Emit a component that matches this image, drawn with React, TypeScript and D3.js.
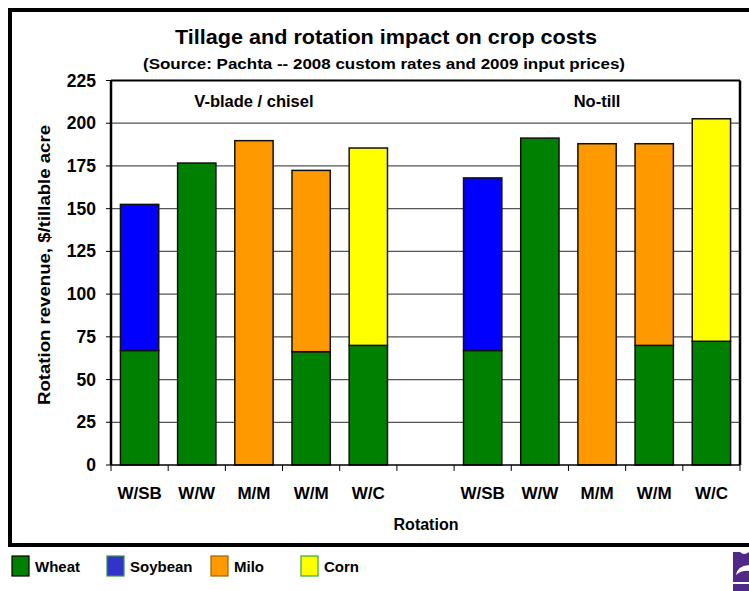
import React from "react";
import * as d3 from "d3";

// Rotation labels (blank slot separates the two tillage groups)
const rotations = ["W/SB", "W/W", "M/M", "W/M", "W/C", "", "W/SB", "W/W", "M/M", "W/M", "W/C"];
const groups = ["V-blade / chisel", "No-till"];

// Revenue by crop, $/tillable acre
const wheat = [67, 176.7, 0, 66.3, 70, 0, 67, 191.3, 0, 70, 72.4];
const soybean = [85.5, 0, 0, 0, 0, 0, 101, 0, 0, 0, 0];
const milo = [0, 0, 189.8, 106.1, 0, 0, 0, 0, 188, 118, 0];
const corn = [0, 0, 0, 0, 115.5, 0, 0, 0, 0, 0, 130.2];

const crops = ["Wheat", "Soybean", "Milo", "Corn"];
const cropColors = ["#008000", "#0000FF", "#FF9900", "#FFFF00"];
const legendColors = ["#008000", "#3333CC", "#FF9900", "#FFFF00"];
const legendStrokes = ["#000000", "#339933", "#996600", "#33AA33"];

const yTicks = [0, 25, 50, 75, 100, 125, 150, 175, 200, 225];

const FONT = "'Liberation Sans', Arial, sans-serif";

export default function App() {
  const W = 749;
  const H = 591;
  const plot = { left: 111, right: 740, top: 80.5, bottom: 465 };

  const x = d3
    .scaleBand<number>()
    .domain(d3.range(rotations.length))
    .range([plot.left, plot.right])
    .paddingInner(0.33)
    .paddingOuter(0.165);
  const step = (plot.right - plot.left) / rotations.length;
  const y = d3.scaleLinear().domain([0, 225]).range([plot.bottom, plot.top]);

  const table = rotations.map((_, i) => ({
    Wheat: wheat[i],
    Soybean: soybean[i],
    Milo: milo[i],
    Corn: corn[i],
  }));
  const stacked = d3.stack<any>().keys(crops)(table);

  const groupCenters = [plot.left + step * 2.5, plot.left + step * 8.5];

  const legendX = [12, 107, 211, 301];

  return (
    <svg
      width={W}
      height={H}
      style={{ position: "absolute", left: 0, top: 0, background: "#fff" }}
      fontFamily={FONT}
      fontWeight="bold"
    >
      {/* outer frame */}
      <rect x={10} y={10} width={760} height={535} fill="none" stroke="#000" strokeWidth={4} />

      {/* titles */}
      <text x={386} y={44} textAnchor="middle" fontSize={21} textLength={422} lengthAdjust="spacingAndGlyphs">
        Tillage and rotation impact on crop costs
      </text>
      <text x={384} y={69} textAnchor="middle" fontSize={14.5} textLength={482} lengthAdjust="spacingAndGlyphs">
        (Source:  Pachta -- 2008 custom rates and 2009 input prices)
      </text>

      {/* gridlines */}
      {yTicks.filter((t) => t > 0 && t < 225).map((t) => (
        <line key={"g" + t} x1={plot.left} x2={plot.right} y1={y(t)} y2={y(t)} stroke="#555" strokeWidth={1.3} />
      ))}

      {/* bars */}
      {stacked.map((layer, k) =>
        layer.map((d, i) =>
          d[1] - d[0] > 0 ? (
            <rect
              key={crops[k] + i}
              x={x(i)}
              y={y(d[1])}
              width={x.bandwidth()}
              height={y(d[0]) - y(d[1])}
              fill={cropColors[k]}
              stroke="#111"
              strokeWidth={1.5}
            />
          ) : null
        )
      )}

      {/* plot frame */}
      <line x1={plot.left} x2={plot.right} y1={plot.top} y2={plot.top} stroke="#000" strokeWidth={2} />
      <line x1={plot.left} x2={plot.left} y1={plot.top} y2={plot.bottom} stroke="#000" strokeWidth={2.5} />
      <line x1={plot.right} x2={plot.right} y1={plot.top} y2={plot.bottom} stroke="#000" strokeWidth={2.5} />
      <line x1={plot.left} x2={plot.right} y1={plot.bottom} y2={plot.bottom} stroke="#000" strokeWidth={1.5} />

      {/* y axis */}
      {yTicks.map((t) => (
        <g key={"y" + t}>
          <line x1={plot.left - 5} x2={plot.left} y1={y(t)} y2={y(t)} stroke="#000" strokeWidth={1} />
          <text x={96} y={y(t) + 6} textAnchor="end" fontSize={17.5}>
            {t}
          </text>
        </g>
      ))}

      {/* x axis ticks and labels */}
      {d3.range(rotations.length + 1).map((i) => (
        <line
          key={"xt" + i}
          x1={plot.left + step * i}
          x2={plot.left + step * i}
          y1={plot.bottom}
          y2={plot.bottom + 6}
          stroke="#000"
          strokeWidth={1}
        />
      ))}
      {rotations.map((r, i) => (
        <text key={"xl" + i} x={plot.left + step * (i + 0.5)} y={499} textAnchor="middle" fontSize={17}>
          {r}
        </text>
      ))}

      {/* group labels */}
      {groups.map((g, i) => (
        <text key={g} x={groupCenters[i]} y={107} textAnchor="middle" fontSize={16.5}>
          {g}
        </text>
      ))}

      {/* axis titles */}
      <text x={426} y={530} textAnchor="middle" fontSize={16}>
        Rotation
      </text>
      <text transform="translate(50,265) rotate(-90)" textAnchor="middle" fontSize={16.5} textLength={280} lengthAdjust="spacingAndGlyphs">
        Rotation revenue, $/tillable acre
      </text>

      {/* legend */}
      {crops.map((c, i) => (
        <g key={"lg" + c}>
          <rect x={legendX[i]} y={556} width={17} height={20} fill={legendColors[i]} stroke={legendStrokes[i]} strokeWidth={1.2} />
          <text x={legendX[i] + 23} y={572} fontSize={15}>
            {c}
          </text>
        </g>
      ))}

      {/* emblem */}
      <g>
        <path d="M733,552 L740,552 Q744,556 749,552 L749,582 L733,582 Z" fill="#512888" />
        <path d="M749,565 Q737,566 736,575 Q742,570 749,571 Z" fill="#fff" />
        <rect x={733} y={584} width={16} height={7} fill="#512888" />
      </g>
    </svg>
  );
}
